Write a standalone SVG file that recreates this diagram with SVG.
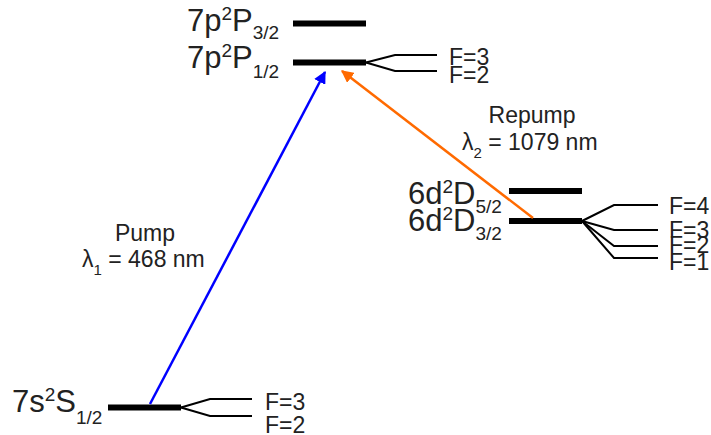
<svg xmlns="http://www.w3.org/2000/svg" width="711" height="435" viewBox="0 0 711 435">
<style>
text{font-family:"Liberation Sans",Arial,sans-serif;fill:#222}
.lab{font-size:31px}
.sm{font-size:19px}
.f{font-size:23px}
.note{font-size:23px}
.sub{font-size:15px}
.bar{stroke:#000;stroke-width:6;fill:none}
.hf{stroke:#000;stroke-width:2;fill:none}
</style>
<defs>
<marker id="ab" viewBox="0 0 10 10" refX="9" refY="5" markerWidth="5" markerHeight="5" orient="auto" markerUnits="strokeWidth"><path d="M0,0L10,5L0,10z" fill="#0000ff"/></marker>
<marker id="ao" viewBox="0 0 10 10" refX="9" refY="5" markerWidth="5" markerHeight="5" orient="auto" markerUnits="strokeWidth"><path d="M0,0L10,5L0,10z" fill="#ff6a00"/></marker>
</defs>
<rect width="711" height="435" fill="#fff"/>
<g id="level-7p-P32">
<line class="bar" x1="293" y1="23.5" x2="366" y2="23.5"/>
<text class="lab" x="187" y="31">7p<tspan class="sm" dy="-11">2</tspan><tspan dy="11">P</tspan><tspan class="sm" dy="8">3/2</tspan></text>
</g>
<g id="level-7p-P12">
<line class="bar" x1="293" y1="62.5" x2="366" y2="62.5"/>
<text class="lab" x="187" y="68">7p<tspan class="sm" dy="-11">2</tspan><tspan dy="11">P</tspan><tspan class="sm" dy="10">1/2</tspan></text>
<polyline class="hf" points="366,62.5 395,55 437,55"/>
<polyline class="hf" points="366,62.5 395,71 437,71"/>
<text class="f" x="449" y="65">F=3</text>
<text class="f" x="449" y="83">F=2</text>
</g>
<g id="level-6d-D52">
<line class="bar" x1="509" y1="191" x2="582" y2="191"/>
<text class="lab" x="408" y="204">6d<tspan class="sm" dy="-11">2</tspan><tspan dy="11">D</tspan><tspan class="sm" dy="9">5/2</tspan></text>
</g>
<g id="level-6d-D32">
<line class="bar" x1="509" y1="221" x2="582" y2="221"/>
<text class="lab" x="408" y="231">6d<tspan class="sm" dy="-11">2</tspan><tspan dy="11">D</tspan><tspan class="sm" dy="9">3/2</tspan></text>
<polyline class="hf" points="582,221 614,205 658,205"/>
<polyline class="hf" points="582,221 614,230 658,230"/>
<polyline class="hf" points="582,221 614,246 658,246"/>
<polyline class="hf" points="582,221 614,258 658,258"/>
<text class="f" x="669" y="214">F=4</text>
<text class="f" x="669" y="238">F=3</text>
<text class="f" x="669" y="253">F=2</text>
<text class="f" x="669" y="270">F=1</text>
</g>
<g id="level-7s-S12">
<line class="bar" x1="108" y1="407.5" x2="181" y2="407.5"/>
<text class="lab" x="12" y="412">7s<tspan class="sm" dy="-11">2</tspan><tspan dy="11">S</tspan><tspan class="sm" dy="12">1/2</tspan></text>
<polyline class="hf" points="181,407.5 210,399 252,399"/>
<polyline class="hf" points="181,407.5 210,416 252,416"/>
<text class="f" x="265" y="410">F=3</text>
<text class="f" x="265" y="433">F=2</text>
</g>
<g id="connectors">
<line x1="150" y1="404" x2="325" y2="72" stroke="#0000ff" stroke-width="2.5" marker-end="url(#ab)"/>
<line x1="533" y1="218" x2="342" y2="71" stroke="#ff6a00" stroke-width="2.5" marker-end="url(#ao)"/>
</g>
<g id="label-pump">
<text class="note" x="145" y="241" text-anchor="middle">Pump</text>
<text class="note" x="82" y="267">λ<tspan class="sub" dy="8">1</tspan><tspan dy="-8"> = 468 nm</tspan></text>
</g>
<g id="label-repump">
<text class="note" x="532" y="123" text-anchor="middle">Repump</text>
<text class="note" x="462" y="150">λ<tspan class="sub" dy="8">2</tspan><tspan dy="-8"> = 1079 nm</tspan></text>
</g>
</svg>
